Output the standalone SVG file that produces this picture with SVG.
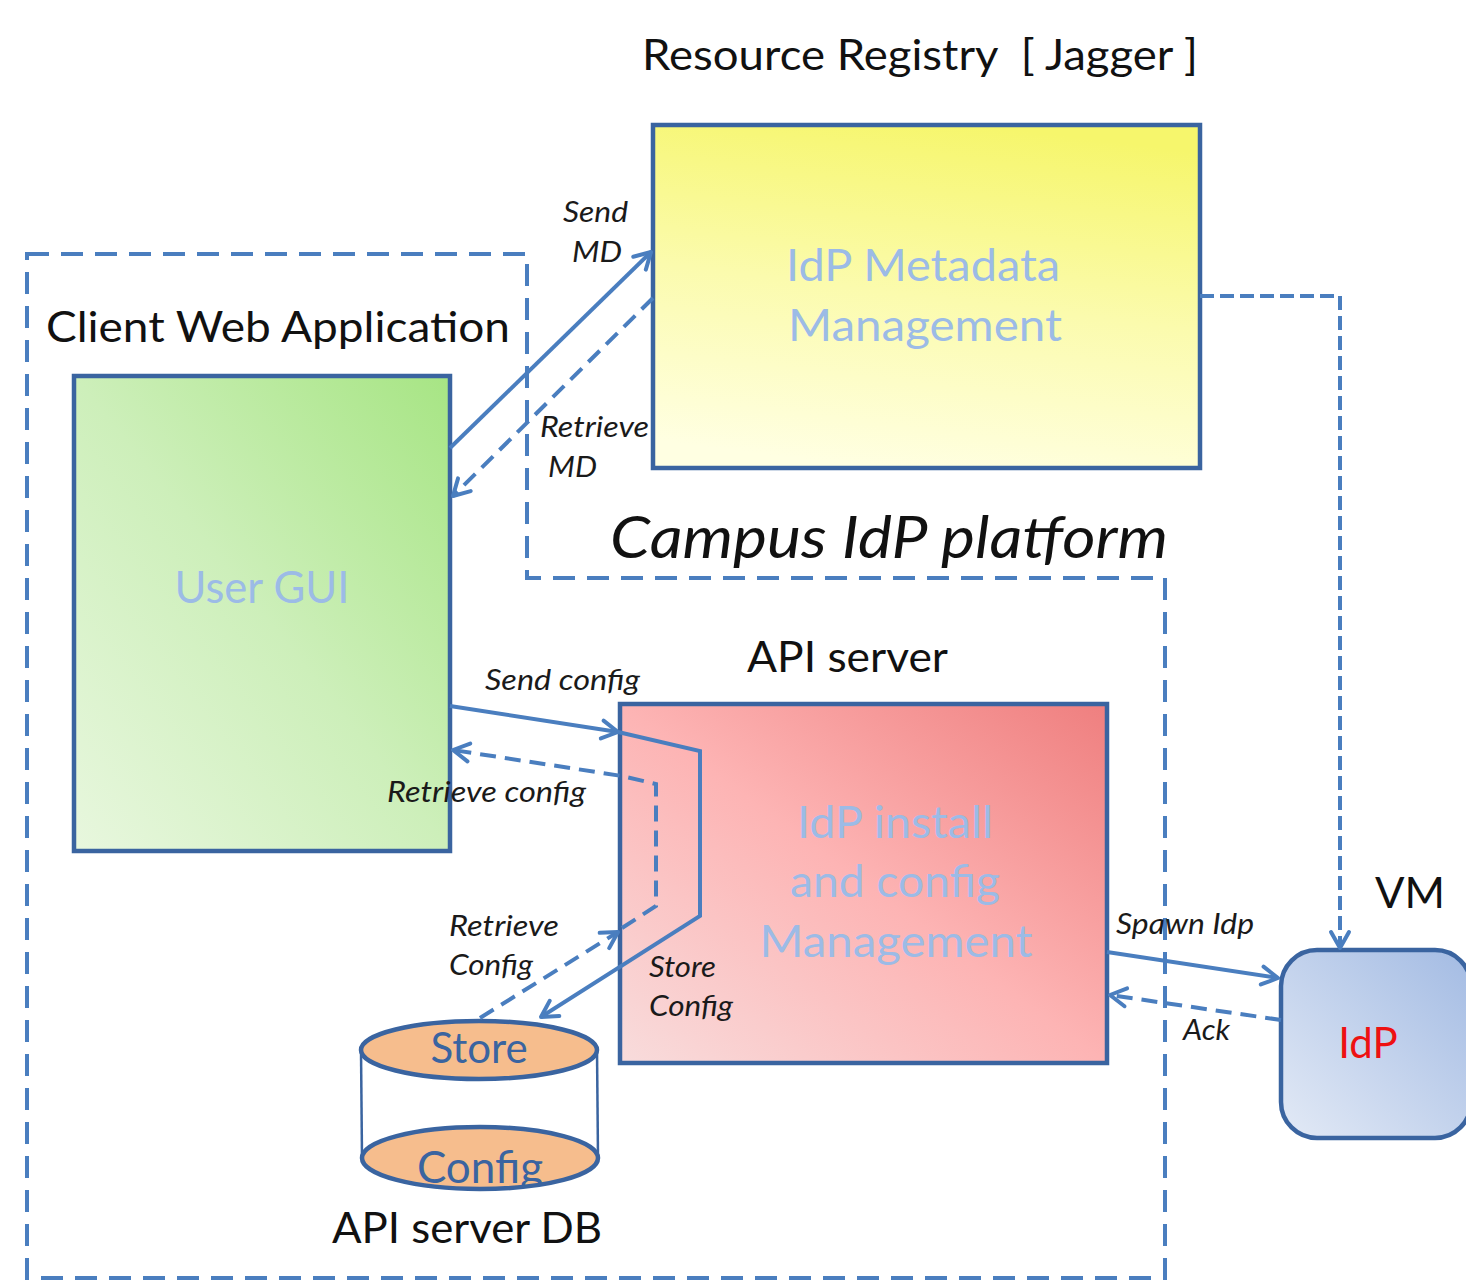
<svg xmlns="http://www.w3.org/2000/svg" width="1466" height="1280" viewBox="0 0 1466 1280">
<style>
.box{stroke:#3a64a0;stroke-width:4.5}
.conn{fill:none;stroke:#4a7ebf;stroke-width:4}
.dash{stroke-dasharray:16 9}
.lbl{font-family:Lato,"Open Sans",sans-serif;font-style:italic;font-size:29px;fill:#1a1a1a}
.title{font-family:Lato,"Open Sans",sans-serif;font-size:42px;fill:#111}
.inner{font-family:Lato,"Open Sans",sans-serif;font-size:45px;fill:#9cbbe6;text-anchor:middle}
</style>
<defs>
<marker id="arr" markerUnits="userSpaceOnUse" markerWidth="24" markerHeight="24" refX="19" refY="12" orient="auto" viewBox="0 0 24 24">
<path d="M3,3 L19,12 L3,21" fill="none" stroke="#4a7ebf" stroke-width="4" stroke-linecap="round" stroke-linejoin="round"/>
</marker>
<linearGradient id="gy" x1="0.6" y1="0" x2="0.4" y2="1">
<stop offset="0" stop-color="#f6f66c"/><stop offset="0.5" stop-color="#fbfbad"/><stop offset="1" stop-color="#ffffe2"/>
</linearGradient>
<linearGradient id="gg" x1="1" y1="0" x2="0" y2="1">
<stop offset="0" stop-color="#a7e584"/><stop offset="0.5" stop-color="#cdefba"/><stop offset="1" stop-color="#e8f7de"/>
</linearGradient>
<linearGradient id="gp" x1="1" y1="0" x2="0" y2="1">
<stop offset="0" stop-color="#ef7f7f"/><stop offset="0.5" stop-color="#fdb4b4"/><stop offset="1" stop-color="#f8dcdc"/>
</linearGradient>
<linearGradient id="gb" x1="1" y1="0" x2="0" y2="1">
<stop offset="0" stop-color="#a3bbe3"/><stop offset="1" stop-color="#e3eaf6"/>
</linearGradient>
<clipPath id="cb"><ellipse cx="480" cy="1158" rx="118" ry="31"/></clipPath>
</defs>

<g id="campus-platform">
<path d="M27,254 H527 V578 H1165 V1278 H27 Z" fill="none" stroke="#4a7ebf" stroke-width="4" stroke-dasharray="22 12"/>
<text x="610" y="558" font-family="Lato,'Open Sans',sans-serif" font-style="italic" font-size="58" fill="#111" textLength="558" lengthAdjust="spacingAndGlyphs">Campus IdP platform</text>
</g>

<g id="resource-registry">
<text class="title" x="642" y="70" textLength="556" lengthAdjust="spacingAndGlyphs">Resource Registry&#160; [ Jagger ]</text>
<rect class="box" x="653" y="125" width="547" height="343" fill="url(#gy)"/>
<text class="inner" x="923" y="281" textLength="274" lengthAdjust="spacingAndGlyphs">IdP Metadata</text>
<text class="inner" x="925" y="341" textLength="274" lengthAdjust="spacingAndGlyphs">Management</text>
</g>

<g id="client-web-app">
<text class="title" x="46" y="342" textLength="464" lengthAdjust="spacingAndGlyphs">Client Web Application</text>
<rect class="box" x="74" y="376" width="376" height="475" fill="url(#gg)"/>
<text class="inner" x="262" y="603" fill="#9ab3df" textLength="175" lengthAdjust="spacingAndGlyphs">User GUI</text>
</g>

<g id="api-server">
<text class="title" x="747" y="672" textLength="201" lengthAdjust="spacingAndGlyphs">API server</text>
<rect class="box" x="620" y="704" width="487" height="359" fill="url(#gp)"/>
<text class="inner" x="895" y="838" fill="#a3c2ec" textLength="196" lengthAdjust="spacingAndGlyphs">IdP install</text>
<text class="inner" x="895" y="897" fill="#a3c2ec" textLength="210" lengthAdjust="spacingAndGlyphs">and config</text>
<text class="inner" x="896" y="957" fill="#a3c2ec" textLength="273" lengthAdjust="spacingAndGlyphs">Management</text>
</g>

<g id="vm">
<text class="title" x="1375" y="908" textLength="70" lengthAdjust="spacingAndGlyphs">VM</text>
<rect class="box" x="1281" y="950" width="190" height="188" rx="36" fill="url(#gb)"/>
<text x="1368" y="1058" font-family="Lato,'Open Sans',sans-serif" font-size="42" fill="#ee1111" text-anchor="middle">IdP</text>
</g>

<g id="api-server-db">
<rect x="361" y="1050" width="236" height="108" fill="#fff"/>
<line x1="361" y1="1050" x2="362" y2="1158" stroke="#3a64a0" stroke-width="2.5"/>
<line x1="597" y1="1050" x2="598" y2="1158" stroke="#3a64a0" stroke-width="2.5"/>
<ellipse cx="480" cy="1158" rx="118" ry="31" fill="#f6bd8d" stroke="#3a64a0" stroke-width="4.5"/>
<text x="480" y="1183" clip-path="url(#cb)" font-family="Lato,'Open Sans',sans-serif" font-size="44" fill="#3a64a0" text-anchor="middle">Config</text>
<ellipse cx="479" cy="1050" rx="118" ry="29" fill="#f6bd8d" stroke="#3a64a0" stroke-width="4.5"/>
<text x="479" y="1063" font-family="Lato,'Open Sans',sans-serif" font-size="42" fill="#3a64a0" text-anchor="middle">Store</text>
<text class="title" x="332" y="1243" textLength="270" lengthAdjust="spacingAndGlyphs">API server DB</text>
</g>

<g id="connectors">
<path class="conn" d="M450,448 L651,252" marker-end="url(#arr)"/>
<path class="conn dash" d="M653,298 L453,496" marker-end="url(#arr)"/>
<path class="conn" d="M450,706 L618,732" marker-end="url(#arr)"/>
<path class="conn" d="M618,732 L700,751 L700,916 L541,1017" marker-end="url(#arr)"/>
<path class="conn dash" d="M480,1018 L618,932" marker-end="url(#arr)"/>
<path class="conn dash" d="M622,928 L656,906 L656,784 L622,776 L453,750" marker-end="url(#arr)"/>
<path class="conn" d="M1107,952 L1278,978" marker-end="url(#arr)"/>
<path class="conn dash" d="M1281,1020 L1110,995" marker-end="url(#arr)"/>
<path class="conn" d="M1200,296 H1340 V948" stroke-dasharray="14 6" marker-end="url(#arr)"/>
<text class="lbl" x="563" y="222" textLength="65" lengthAdjust="spacingAndGlyphs">Send</text>
<text class="lbl" x="572" y="262" textLength="50" lengthAdjust="spacingAndGlyphs">MD</text>
<text class="lbl" x="540" y="437" textLength="109" lengthAdjust="spacingAndGlyphs">Retrieve</text>
<text class="lbl" x="548" y="477" textLength="49" lengthAdjust="spacingAndGlyphs">MD</text>
<text class="lbl" x="485" y="690" textLength="155" lengthAdjust="spacingAndGlyphs">Send config</text>
<text class="lbl" x="387" y="802" textLength="199" lengthAdjust="spacingAndGlyphs">Retrieve config</text>
<text class="lbl" x="449" y="936" textLength="110" lengthAdjust="spacingAndGlyphs">Retrieve</text>
<text class="lbl" x="449" y="975" textLength="84" lengthAdjust="spacingAndGlyphs">Config</text>
<text class="lbl" x="649" y="977" textLength="67" lengthAdjust="spacingAndGlyphs">Store</text>
<text class="lbl" x="649" y="1016" textLength="84" lengthAdjust="spacingAndGlyphs">Config</text>
<text class="lbl" x="1116" y="934" textLength="138" lengthAdjust="spacingAndGlyphs">Spawn Idp</text>
<text class="lbl" x="1183" y="1040" textLength="47" lengthAdjust="spacingAndGlyphs">Ack</text>
</g>
</svg>
